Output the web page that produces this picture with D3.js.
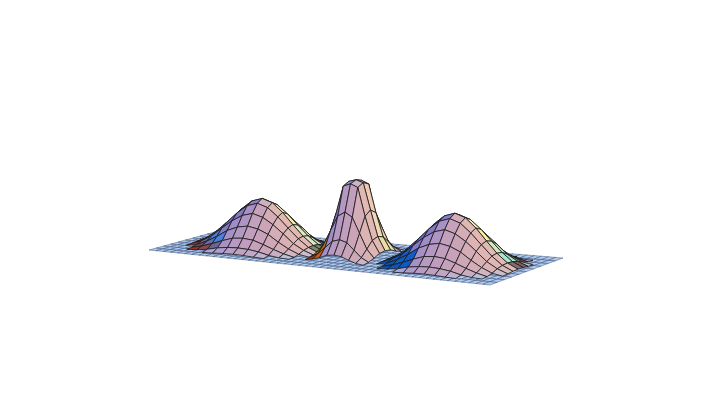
<!DOCTYPE html>
<html>
<head>
<meta charset="utf-8">
<script src="https://cdn.jsdelivr.net/npm/d3@7"></script>
<style>
  html, body { margin: 0; padding: 0; background: #fff; }
</style>
</head>
<body>
<div id="chart"></div>
<script>
//Floor mesh size
var floorCols = 48,
  floorRows = 10;

//Where each hump sits on the floor (0 to 1 along and across), peak height
var humpAlong = [0.225, 0.5, 0.79];
var humpAcross = [0.5, 0.5, 0.5];
var humpHalfAlong = [0.18, 0.085, 0.185];
var humpHalfAcross = [0.4, 0.3, 0.42];
var humpPeaks = [0.64, 1, 0.68];

//Colours of the facets on the edge of the hump, base of the hump first
var awayLeftRamps = [
  ['#a52a10', '#4a86e0', '#3858cc', '#2a48b8'],
  ['#8a1a10', '#e08a10', '#1a1a90', '#e8a830'],
  ['#0a50b0', '#1060c8', '#2048b8', '#2a48b8']
];
var awayRightRamps = [
  ['#3a4a30', '#d8e8c8', '#f2eeb0', '#f0e0b8'],
  ['#203020', '#e8e0a0', '#f0d8b8', '#f0c8b0'],
  ['#701020', '#a0e8d0', '#f4f0a8', '#f0e0b0']
];

//Colours of the facets facing us, turned left through to turned right
var facingTurn = [-1, -0.5, 0, 0.5, 1];
var facingColours = ['#5a5cc4', '#a08cc8', '#bd9cc0', '#cba4b8', '#e2bab2'];
var floorColour = '#aecbf2';

//One quarter of the wide hump, centre at top left
var wideQuarter = [
  [1, 0.93, 0.75, 0.52, 0.3, 0.13, 0.03],
  [0.93, 0.86, 0.69, 0.48, 0.28, 0.12, 0.025],
  [0.75, 0.69, 0.56, 0.39, 0.21, 0.09, 0.012],
  [0.52, 0.48, 0.39, 0.25, 0.13, 0.04, 0.004],
  [0.3, 0.28, 0.21, 0.13, 0.06, 0.01, 0],
  [0.13, 0.12, 0.09, 0.04, 0.01, 0, 0],
  [0.03, 0.025, 0.012, 0.004, 0, 0, 0]
];

//One quarter of the tall narrow hump, clipped flat at the top
var tallQuarter = [
  [1, 0.97, 0.62, 0.28, 0.1],
  [0.97, 0.93, 0.56, 0.25, 0.09],
  [0.62, 0.56, 0.36, 0.16, 0.05],
  [0.28, 0.25, 0.16, 0.07, 0.02],
  [0.1, 0.09, 0.05, 0.02, 0.005]
];
var humpShapes = [wideQuarter, tallQuarter, wideQuarter];

var width = 726,
  height = 402;

//Front edge and back edge of the floor on screen
var frontX = d3.scaleLinear().domain([0, 1]).range([149, 490]);
var frontY = d3.scaleLinear().domain([0, 1]).range([250, 285]);
var backX = d3.scaleLinear().domain([0, 1]).range([222, 563]);
var backY = d3.scaleLinear().domain([0, 1]).range([230, 258]);
var rise = d3.scaleLinear().domain([0, 1]).range([0, 76]);

function project(u, v, z) {
  return [
    frontX(u) + (backX(u) - frontX(u)) * v,
    frontY(u) + (backY(u) - frontY(u)) * v - rise(z)
  ];
}

var line = d3.line().curve(d3.curveLinearClosed);

var svg = d3.select('#chart')
  .append('svg')
  .attr('width', width)
  .attr('height', height)
  .style('display', 'block');

//Floor first
var floorCells = [];
d3.range(floorRows).forEach(function(r) {
  d3.range(floorCols).forEach(function(c) {
    floorCells.push([c, r]);
  });
});

var floorU = d3.scaleLinear().domain([0, floorCols]).range([0, 1]);
var floorV = d3.scaleLinear().domain([0, floorRows]).range([0, 1]);

svg.append('g').selectAll('path')
  .data(floorCells)
  .enter()
  .append('path')
  .attr('d', function(d) {
    return line([
      project(floorU(d[0]), floorV(d[1]), 0),
      project(floorU(d[0] + 1), floorV(d[1]), 0),
      project(floorU(d[0] + 1), floorV(d[1] + 1), 0),
      project(floorU(d[0]), floorV(d[1] + 1), 0)
    ]);
  })
  .attr('fill', floorColour)
  .attr('stroke', '#34466a')
  .attr('stroke-width', 0.45);

var facingScale = d3.scaleLinear().domain(facingTurn).range(facingColours).clamp(true);
var flatMix = d3.scaleLinear().domain([0, 0.07]).range([1, 0]).clamp(true);
var rampHeight = d3.scaleLinear().domain([0, 0.12, 0.4, 0.8]);

//Colour of one hump facet from its slope
function shade(h, dzu, dzv, z) {
  var slope = Math.sqrt(dzu * dzu + dzv * dzv);
  var turn = -dzu / (slope + 0.001);

  //Seen nearly edge on: these show as slivers along the flanks
  var leftFan = turn < -0.5 && z < 0.2;
  var leftEdge = turn < -0.92 && slope > 0.07;
  var rightEdge = turn > 0.8 && dzv < 0.005 && slope > 0.05;
  if (leftFan || leftEdge) {
    return rampHeight.copy().range(awayLeftRamps[h]).clamp(true)(z);
  }
  if (rightEdge) {
    return rampHeight.copy().range(awayRightRamps[h]).clamp(true)(z);
  }
  return d3.interpolateRgb(facingScale(turn), floorColour)(flatMix(slope));
}

//Humps, back to front, the tall one last
[0, 2, 1].forEach(function(h) {
  var shape = humpShapes[h], n = shape.length - 1;
  var offsets = d3.range(-n, n + 1);
  var peak = humpPeaks[h];

  var along = d3.scaleLinear().domain([-n, n])
    .range([humpAlong[h] - humpHalfAlong[h], humpAlong[h] + humpHalfAlong[h]]);
  var across = d3.scaleLinear().domain([-n, n])
    .range([humpAcross[h] - humpHalfAcross[h], humpAcross[h] + humpHalfAcross[h]]);

  function zAt(c, r) {
    return peak * shape[Math.abs(r)][Math.abs(c)];
  }

  function corner(c, r) {
    return project(along(c), across(r), zAt(c, r));
  }

  //Facets at the feet of the hump are left out so the floor shows there
  var facets = [];
  offsets.slice(0, -1).reverse().forEach(function(r) {
    offsets.slice(0, -1).forEach(function(c) {
      var mean = (zAt(c, r) + zAt(c + 1, r) + zAt(c, r + 1) + zAt(c + 1, r + 1)) / 4;
      if (mean > 0.012) facets.push({ c: c, r: r });
    });
  });

  svg.append('g').selectAll('path')
    .data(facets)
    .enter()
    .append('path')
    .attr('d', function(d) {
      return line([corner(d.c, d.r), corner(d.c + 1, d.r), corner(d.c + 1, d.r + 1), corner(d.c, d.r + 1)]);
    })
    .attr('fill', function(d) {
      var a = zAt(d.c, d.r), b = zAt(d.c + 1, d.r), e = zAt(d.c + 1, d.r + 1), f = zAt(d.c, d.r + 1);
      return shade(h, (b + e - a - f) / 2, (f + e - a - b) / 2, (a + b + e + f) / 4);
    })
    .attr('stroke', '#1a1a1a')
    .attr('stroke-width', 0.8)
    .attr('stroke-linejoin', 'round');
});
</script>
</body>
</html>
